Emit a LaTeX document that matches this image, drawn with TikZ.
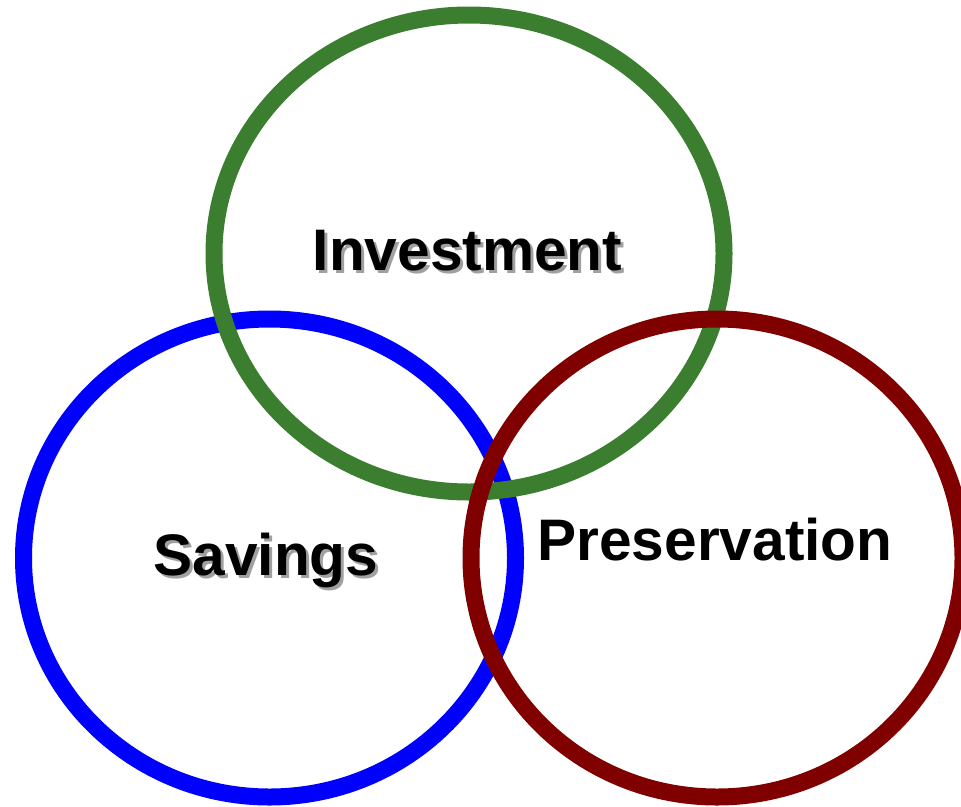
\documentclass[tikz,border=0pt]{standalone}
\usepackage{fontspec}
\setmainfont{Liberation Sans}
\definecolor{ringgreen}{RGB}{59,126,48}
\definecolor{ringblue}{RGB}{0,0,255}
\definecolor{ringred}{RGB}{128,0,0}
\definecolor{shadowgray}{RGB}{160,160,160}
\tikzset{
  ring/.style={line width=17pt},
  lbl/.style={font=\fontsize{58.6}{62}\selectfont\bfseries, anchor=base, inner sep=0pt},
  shadowlbl/.style={lbl, text=shadowgray}
}
\begin{document}
\begin{tikzpicture}[x=1pt,y=-1pt]
\useasboundingbox (0,0) rectangle (961,806);
\draw[ring, ringblue] (269.5,558) ellipse [x radius=246, y radius=239];
\draw[ring, ringgreen] (469,253.5) ellipse [x radius=255, y radius=238.5];
\draw[ring, ringred] (717,558) ellipse [x radius=246, y radius=239];
\node[shadowlbl] (invs) at (470.5,273) {Investment};
\node[lbl] (inv) at (467.5,270) {Investment};
\node[shadowlbl] (savs) at (269,578) {Savings};
\node[lbl] (sav) at (266,575) {Savings};
\node[lbl] (pres) at (715,560) {Preservation};
\end{tikzpicture}
\end{document}
